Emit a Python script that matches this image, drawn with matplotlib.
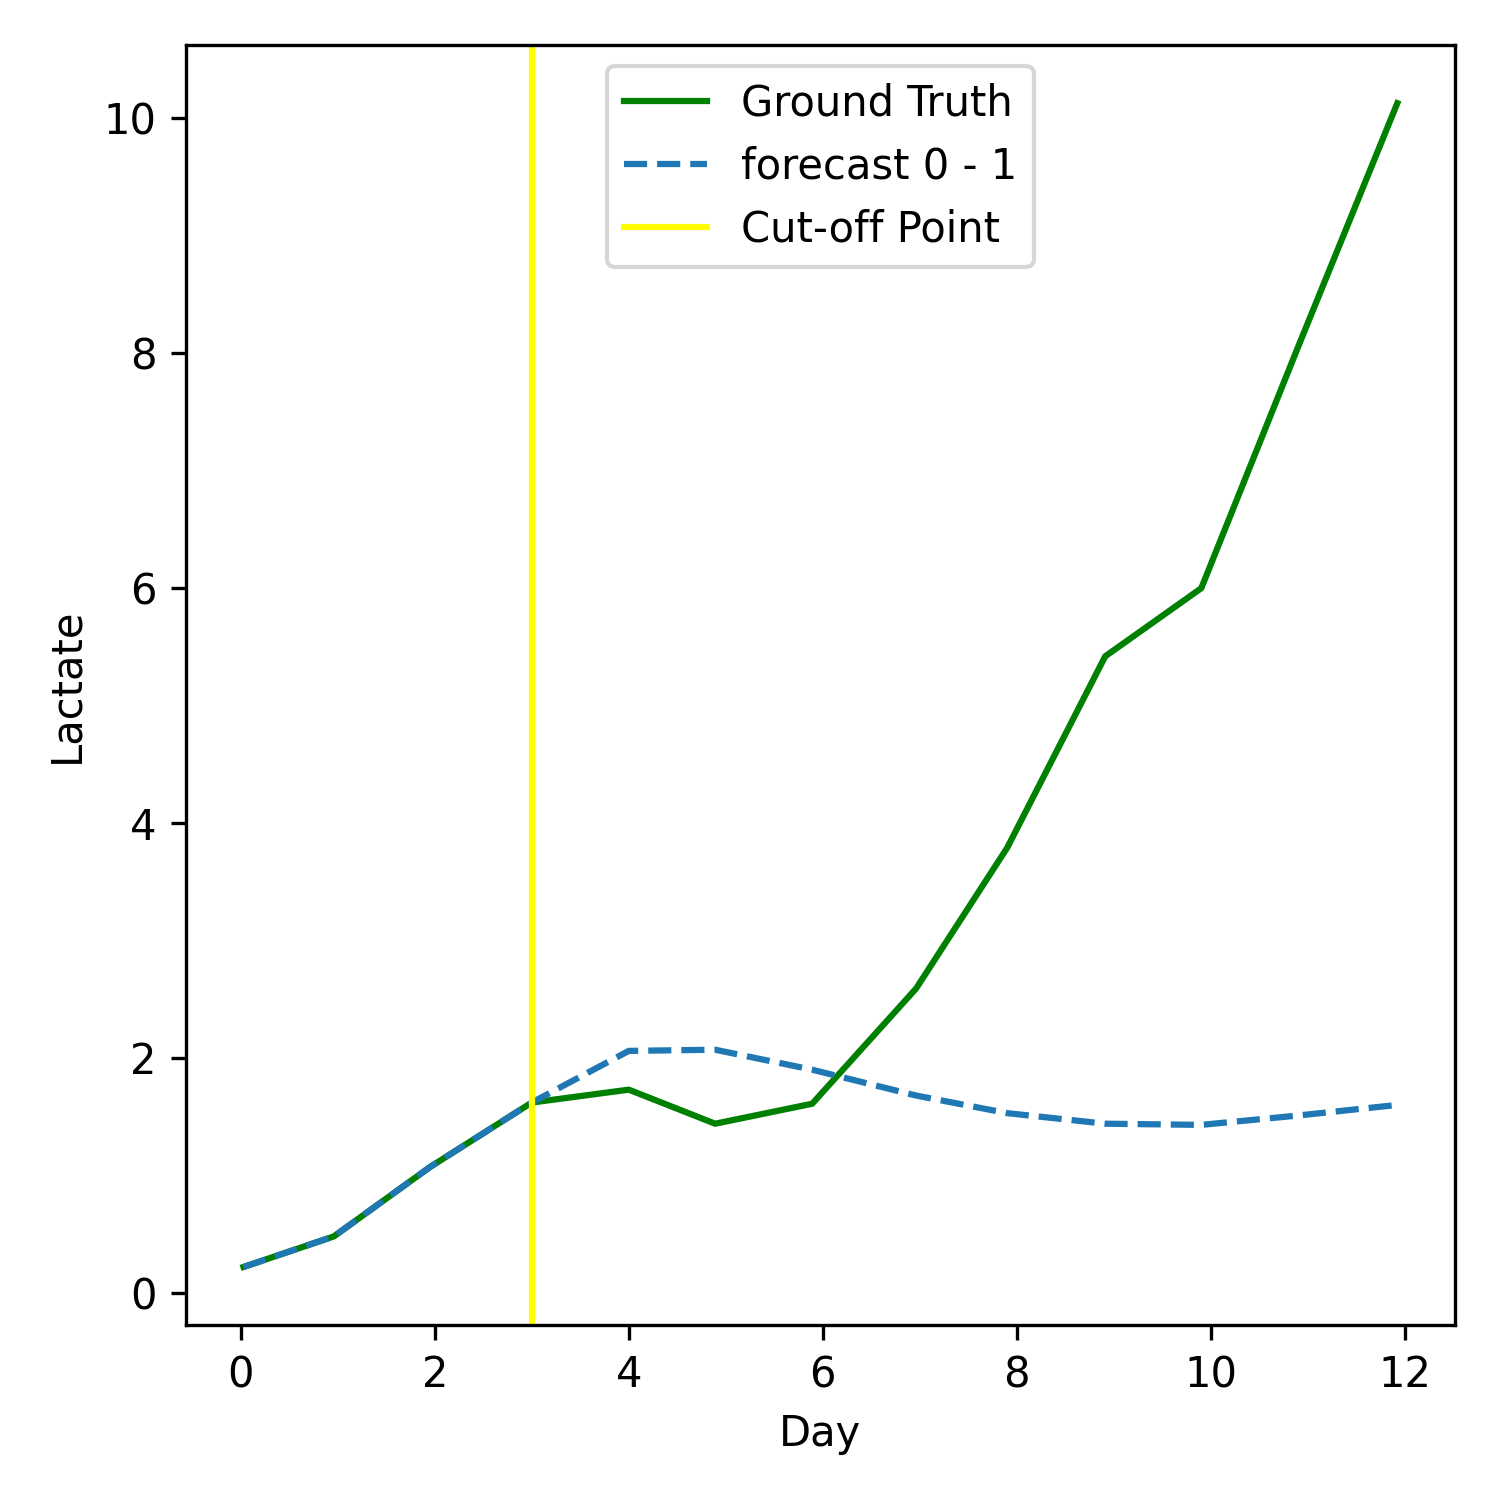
import matplotlib
matplotlib.use("Agg")
import matplotlib.pyplot as plt

# Values
days = [0.03, 0.96, 1.95, 3.0, 4.0, 4.89, 5.89, 6.96, 7.9, 8.91, 9.9, 10.9, 11.92]
ground_truth = [0.22, 0.48, 1.07, 1.62, 1.73, 1.44, 1.61, 2.59, 3.79, 5.42, 6.0, 8.06, 10.13]
forecast = [0.22, 0.48, 1.07, 1.62, 2.06, 2.07, 1.90, 1.68, 1.53, 1.44, 1.43, 1.51, 1.60]
cutoff_day = 3


def draw_plot(output_path: str) -> None:
    """Draws ground truth vs forecast lactate and saves it."""
    plt.figure(figsize=(5, 5), dpi=300)
    plt.plot(days, ground_truth, label="Ground Truth", color="green")
    plt.plot(days, forecast, label="forecast 0 - 1", linestyle="--", color="#1f77b4")
    plt.axvline(cutoff_day, color="yellow", label="Cut-off Point")
    plt.xlabel("Day")
    plt.ylabel("Lactate")
    plt.legend(loc="upper center")
    plt.tight_layout()
    plt.savefig(output_path)


if __name__ == "__main__":
    draw_plot("out.png")
